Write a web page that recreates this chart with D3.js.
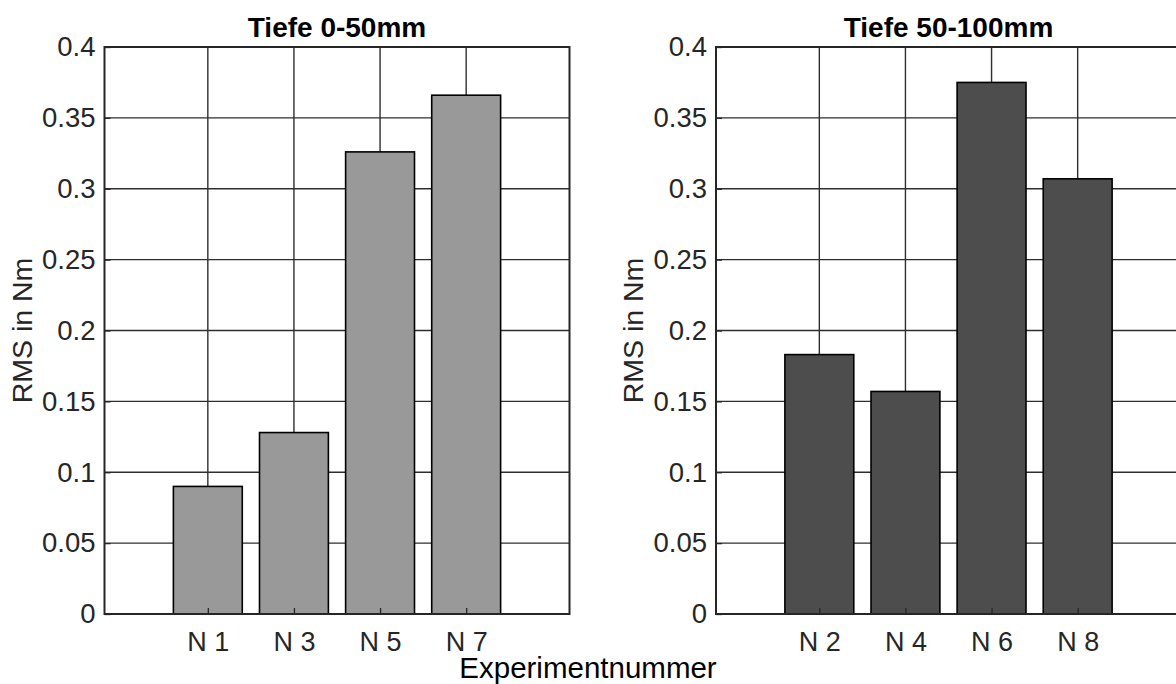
<!DOCTYPE html>
<html>
<head>
<meta charset="utf-8">
<script src="https://cdn.jsdelivr.net/npm/d3@7"></script>
<style>
  body { margin: 0; background: #fff; }
  svg { display: block; font-family: "Liberation Sans", Arial, sans-serif; }
</style>
</head>
<body>
<script>

// data
const catsLeft = ["N 1", "N 3", "N 5", "N 7"];
const rmsLeft = [0.090, 0.128, 0.326, 0.366];
const catsRight = ["N 2", "N 4", "N 6", "N 8"];
const rmsRight = [0.183, 0.157, 0.375, 0.307];
const yTicks = [0, 0.05, 0.1, 0.15, 0.2, 0.25, 0.3, 0.35, 0.4];
const titles = ["Tiefe 0-50mm", "Tiefe 50-100mm"];
const yLabel = "RMS in Nm";
const xLabel = "Experimentnummer";

const w = 1176;
const h = 684;
const plotW = 465;
const plotTop = 47;
const plotBottom = 614;

const svg = d3.select("body")
  .append("svg")
    .attr("width", w)
    .attr("height", h);

svg.append("rect")
    .attr("width", w)
    .attr("height", h)
    .attr("fill", "#fff");

const yScale = d3.scaleLinear()
    .domain([0, 0.4])
    .range([plotBottom, plotTop]);

function drawPanel(left, cats, values, title, fill) {
  const xScale = d3.scalePoint()
      .domain(cats)
      .range([0, plotW])
      .padding(1.2);
  const barW = xScale.step() * 0.8;

  const g = svg.append("g")
      .attr("transform", `translate(${left},0)`);

  // grid below the bars
  g.append("g")
    .selectAll("line")
    .data(yTicks)
    .join("line")
      .attr("x1", 0)
      .attr("x2", plotW)
      .attr("y1", d => yScale(d))
      .attr("y2", d => yScale(d))
      .attr("stroke", "#2e2e2e")
      .attr("stroke-width", 1.4);

  g.append("g")
    .selectAll("line")
    .data(cats)
    .join("line")
      .attr("x1", d => xScale(d))
      .attr("x2", d => xScale(d))
      .attr("y1", plotTop)
      .attr("y2", plotBottom)
      .attr("stroke", "#2e2e2e")
      .attr("stroke-width", 1.4);

  // bars
  g.append("g")
    .selectAll("rect")
    .data(values)
    .join("rect")
      .attr("x", (d, i) => xScale(cats[i]) - barW / 2)
      .attr("y", d => yScale(d))
      .attr("width", barW)
      .attr("height", d => plotBottom - yScale(d))
      .attr("fill", fill)
      .attr("stroke", "#000")
      .attr("stroke-width", 1.6);

  // y axis, ticks inside
  const yAxis = d3.axisLeft(yScale)
      .tickValues(yTicks)
      .tickFormat(d => String(+d.toFixed(2)))
      .tickSizeInner(-6)
      .tickSizeOuter(0)
      .tickPadding(9);

  const ya = g.append("g").call(yAxis);
  ya.select(".domain").remove();
  ya.selectAll("line").attr("stroke", "#262626").attr("stroke-width", 1.3);
  ya.selectAll("text")
      .attr("font-size", 27.5)
      .attr("fill", "#262626")
      .attr("font-family", "Liberation Sans, Arial, sans-serif");

  // x axis, ticks inside
  const xAxis = d3.axisBottom(xScale)
      .tickSizeInner(-6)
      .tickSizeOuter(0)
      .tickPadding(18);

  const xa = g.append("g")
      .attr("transform", `translate(0,${plotBottom})`)
      .call(xAxis);
  xa.select(".domain").remove();
  xa.selectAll("line").attr("stroke", "#262626").attr("stroke-width", 1.3);
  xa.selectAll("text")
      .attr("font-size", 27)
      .attr("fill", "#262626")
      .attr("font-family", "Liberation Sans, Arial, sans-serif");

  // box
  g.append("rect")
      .attr("x", 0)
      .attr("y", plotTop)
      .attr("width", plotW)
      .attr("height", plotBottom - plotTop)
      .attr("fill", "none")
      .attr("stroke", "#262626")
      .attr("stroke-width", 2);

  g.append("text")
      .attr("x", plotW / 2)
      .attr("y", 37)
      .attr("text-anchor", "middle")
      .attr("font-size", 28)
      .attr("font-weight", "bold")
      .attr("fill", "#000")
      .text(title);

  g.append("text")
      .attr("transform", `translate(-73,${(plotTop + plotBottom) / 2}) rotate(-90)`)
      .attr("text-anchor", "middle")
      .attr("font-size", 28.5)
      .attr("fill", "#262626")
      .text(yLabel);
}

drawPanel(104.5, catsLeft, rmsLeft, titles[0], "#999999");
drawPanel(716, catsRight, rmsRight, titles[1], "#4d4d4d");

svg.append("text")
    .attr("x", 588)
    .attr("y", 678)
    .attr("text-anchor", "middle")
    .attr("font-size", 29.5)
    .attr("fill", "#000")
    .text(xLabel);

</script>
</body>
</html>
